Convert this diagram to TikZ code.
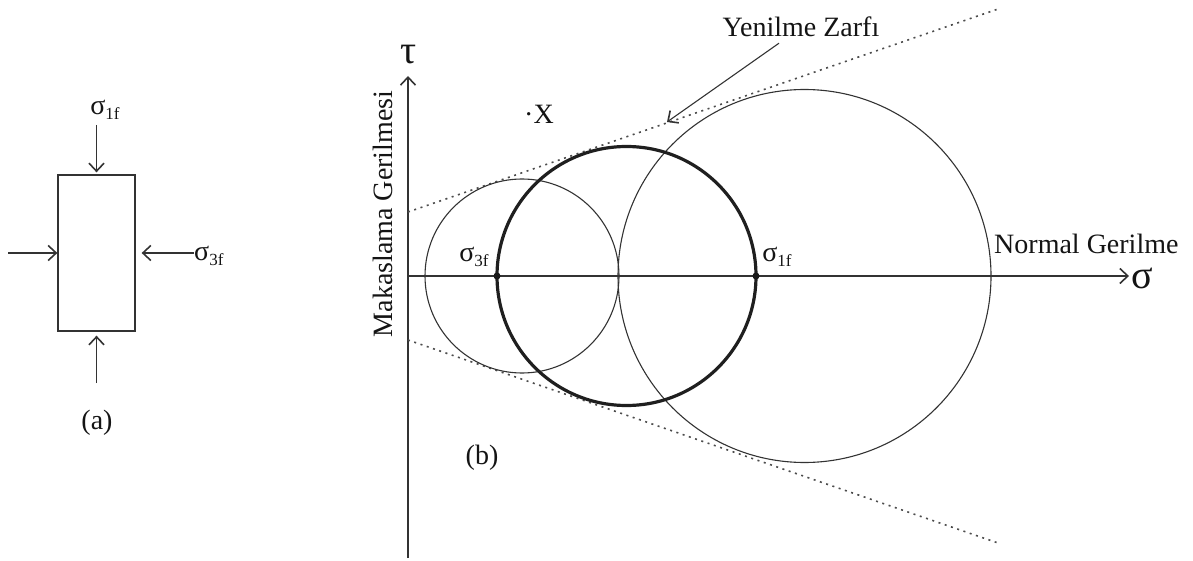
\documentclass[tikz,border=0pt]{standalone}
\usepackage{fontspec}
\setmainfont{Liberation Serif}
\usetikzlibrary{arrows.meta}
\newcommand\sigsub[1]{σ\raisebox{-0.35ex}{\fontsize{17}{17}\selectfont #1}}
\begin{document}
\begin{tikzpicture}[x=1pt,y=-1pt,
  ln/.style={line width=1.2pt, draw=black!80},
  arr/.style={ln,-{Straight Barb[length=8pt,width=15pt,line width=1.6pt]}},
  lbl/.style={font=\fontsize{28}{30}\selectfont, inner sep=0pt, text=black!92},
  big/.style={font=\fontsize{40}{42}\selectfont, inner sep=0pt, text=black!92},
  thincirc/.style={line width=1.1pt, draw=black!80},
  thickcirc/.style={line width=3.2pt, draw=black!88},
  env/.style={line width=1.6pt, draw=black!70, dash pattern=on 2pt off 4.6pt},
  dot/.style={circle, fill=black!90, inner sep=0pt, minimum size=7pt},
  blk/.style={draw=black!80, line width=1.3pt, inner sep=0pt, minimum width=77pt, minimum height=156pt}]
\useasboundingbox (0,0) rectangle (1193,561);

% ---------- (a) ----------
\node[blk] (box) at (96.5,253) {};
\node[lbl] (s1) at (105,110) {\sigsub{1f}};
\coordinate (a1) at (96.5,125);
\draw[arr] (a1) -- ([yshift=2pt]box.north);
\coordinate (l0) at (8,253);
\draw[arr] (l0) -- (box.west);
\node[lbl, anchor=west] (s3) at (194,256) {\sigsub{3f}};
\draw[arr] (s3.west |- box.east) -- ([xshift=6pt]box.east);
\coordinate (a2) at (96.5,383);
\draw[arr] (a2) -- ([yshift=-4pt]box.south);
\node[lbl] (la) at (97,423) {(a)};

% ---------- (b) ----------
\coordinate (tb) at (408,558);
\coordinate (tt) at (408,76);
\coordinate (sl) at (408,276);
\coordinate (sr) at (1129,276);
\draw[arr] (tb) -- (tt);
\draw[arr] (sl) -- (sr);
\node[big] (tau) at (409,55) {τ};
\node[big, anchor=base west, text height=0.45em, text depth=0pt] (sig) at (1131,288) {σ};
\node[lbl, anchor=base west] (ng) at (994,254) {Normal Gerilme};
\node[lbl, rotate=90] (mg) at (383,214) {Makaslama Gerilmesi};
\node[lbl] (X) at (539,114) {·X};

% envelope
\coordinate (u0) at (408,212);
\coordinate (u1) at (998,9);
\coordinate (d0) at (408,340);
\coordinate (d1) at (998,543);
\draw[env] (u0) -- (u1);
\draw[env] (d0) -- (d1);

% Mohr circles
\draw[thincirc] (522,276) circle (97pt);
\draw[thincirc] (804.5,276) circle (186.5pt);
\draw[thickcirc] (626.5,276) circle (129.5pt);
\node[dot] (p3) at (497,276) {};
\node[dot] (p1) at (756,276) {};
\node[lbl] (l3) at (474,257) {\sigsub{3f}};
\node[lbl] (l1) at (777,257) {\sigsub{1f}};

% label of envelope
\node[lbl] (yz) at (801,27) {Yenilme Zarfı};
\coordinate (ep) at (667,122);
\draw[arr, line width=1.1pt] ([xshift=-22pt,yshift=-6pt]yz.south) -- (ep);

\node[lbl] (lb) at (482,458) {(b)};
\end{tikzpicture}
\end{document}
